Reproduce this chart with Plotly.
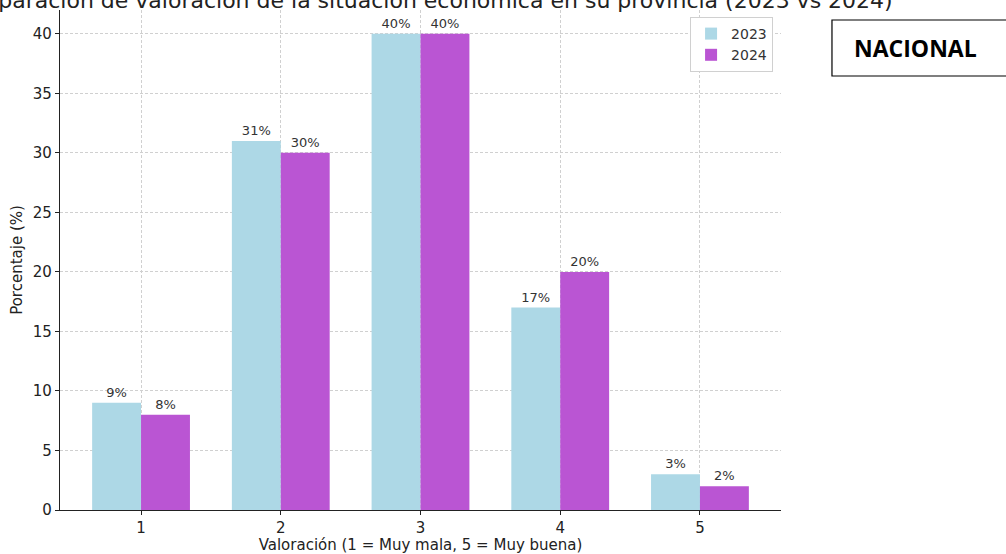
#!/usr/bin/env python
"Valoracion de la situacion economica, 2023 vs 2024 (NACIONAL)"

import plotly.graph_objects as go

# data
categories = [1, 2, 3, 4, 5]
values_2023 = [9, 31, 40, 17, 3]
values_2024 = [8, 30, 40, 20, 2]
series_names = ['2023', '2024']
y_ticks = [0, 5, 10, 15, 20, 25, 30, 35, 40]

TITLE = 'Comparación de valoración de la situación económica en su provincia (2023 vs 2024)'
FONT = 'DejaVu Sans'
GRID = dict(showgrid=True, gridcolor='#d0d0d0', griddash='3px,2px', gridwidth=0.8)

fig = go.Figure()
for name, values, color in zip(series_names, [values_2023, values_2024],
                               ['#ADD8E6', '#BA55D3']):
    fig.add_trace(go.Bar(
        x=categories,
        y=values,
        name=name,
        marker=dict(color=color, line=dict(width=0)),
        text=['{}%'.format(v) for v in values],
        textposition='outside',
        textfont=dict(family=FONT, size=13, color='#333333'),
        cliponaxis=False
    ))

fig.update_layout(
    width=1006,
    height=554,
    margin=dict(l=60, r=225, t=10, b=44),
    paper_bgcolor='white',
    plot_bgcolor='white',
    barmode='group',
    bargap=0.3,
    bargroupgap=0,
    font=dict(family=FONT, size=15, color='#222222'),
    legend=dict(
        x=0.989, y=0.986, xanchor='right', yanchor='top',
        bgcolor='white', bordercolor='#d0d0d0', borderwidth=1,
        font=dict(family=FONT, size=14, color='#333333'),
        itemwidth=30
    ),
    xaxis=dict(
        range=[0.42, 5.58],
        tickvals=categories,
        automargin=False,
        showline=True, linecolor='#222222', linewidth=1.2,
        ticks='outside', ticklen=4, tickcolor='#222222',
        zeroline=False,
        title=dict(text='Valoración (1 = Muy mala, 5 = Muy buena)',
                   font=dict(size=15), standoff=4),
        **GRID
    ),
    yaxis=dict(
        range=[0, 42],
        tickvals=y_ticks,
        automargin=False,
        showline=True, linecolor='#222222', linewidth=1.2,
        ticks='outside', ticklen=4, tickcolor='#222222',
        zeroline=False,
        title=dict(text='Porcentaje (%)', font=dict(size=15), standoff=6),
        **GRID
    ),
    annotations=[
        dict(text=TITLE, xref='paper', yref='paper', x=0.5, y=1.018,
             xanchor='center', yanchor='middle', showarrow=False,
             font=dict(family=FONT, size=22, color='#222222')),
        dict(text='<b>NACIONAL</b>', xref='paper', yref='paper',
             x=1.0985, y=0.924, xanchor='left', yanchor='middle',
             showarrow=False,
             font=dict(family='Open Sans', size=23, color='black'))
    ],
    shapes=[
        dict(type='rect', xref='paper', yref='paper',
             x0=1.0707, x1=1.35, y0=0.868, y1=0.98,
             line=dict(color='black', width=1.2), fillcolor='white',
             layer='below')
    ]
)

fig.write_html('out.html', config={'displayModeBar': False},
               post_script="document.body.style.margin='0';")
